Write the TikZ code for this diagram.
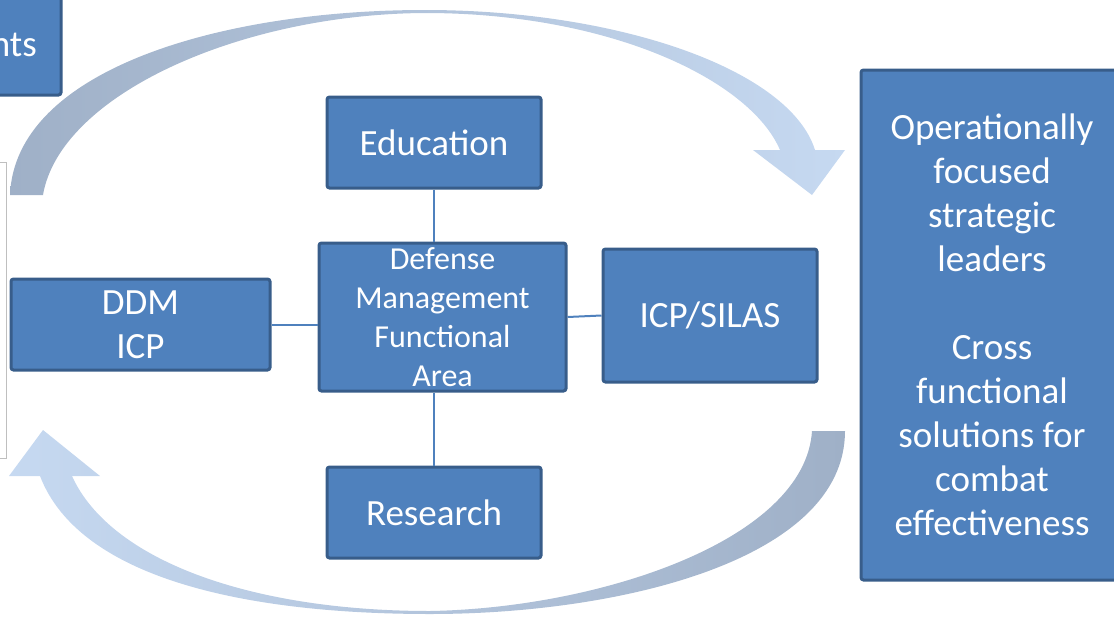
\documentclass[tikz,border=0pt]{standalone}
\usepackage{fontspec}
\setmainfont{Carlito}
\usetikzlibrary{positioning}
\definecolor{boxfill}{HTML}{4F81BD}
\definecolor{boxline}{HTML}{385D8A}
\definecolor{arcdark}{HTML}{9FB0C7}
\definecolor{arclight}{HTML}{C6D9F1}

\begin{document}
\begin{tikzpicture}[x=1pt, y=-1pt, box/.style={draw=boxline, fill=boxfill, line width=3pt, rounded corners=2.5pt, text=white, align=center, inner sep=0pt, font=\fontsize{37}{44}\selectfont}, link/.style={draw=boxfill, line width=2pt}]
\useasboundingbox (0,0) rectangle (1114,616);
\clip (0,0) rectangle (1114,616);

\shade[left color=arcdark, right color=arclight] (10,195) .. controls (15,70) and (220,10) .. (425,10) .. controls (620,10) and (790,70) .. (815,150) -- (845,150) -- (812,195) -- (753,150) -- (780,150) .. controls (750,80) and (610,13) .. (425,13) .. controls (240,14) and (60,95) .. (43,195) -- cycle;
\shade[left color=arclight, right color=arcdark] (845,431) .. controls (845,560) and (620,614) .. (430,614) .. controls (250,614) and (80,580) .. (40,476) -- (9,476) -- (43,430) -- (100,476) -- (72,476) .. controls (110,560) and (250,611) .. (430,611) .. controls (600,608) and (805,540) .. (812,431) -- cycle;

\draw[gray!50, line width=1pt] (-10,162) rectangle (6,458);

\node[box, minimum width=80pt, minimum height=110pt] (req) at (21,40) {};
\node[text=white, anchor=base east, inner sep=0pt, font=\fontsize{37}{44}\selectfont] (reqtext) at (37,56) {nts};

\node[box, minimum width=214pt, minimum height=91pt] (edu) at (434,142.5) {Education};
\node[box, minimum width=247pt, minimum height=148pt, font=\fontsize{32}{39}\selectfont] (dmfa) at (442.5,317) {Defense\\Management\\Functional\\Area};
\node[box, minimum width=259pt, minimum height=91pt] (ddm) at (140.5,324.5) {DDM\\ICP};
\node[box, minimum width=214pt, minimum height=133pt] (silas) at (710,315.5) {ICP/SILAS};
\node[box, minimum width=214pt, minimum height=91pt] (res) at (434,512.5) {Research};
\node[box, minimum width=262pt, minimum height=510pt] (goals) at (992,325) {Operationally\\focused\\strategic\\leaders\\[44pt]Cross\\functional\\solutions for\\combat\\effectiveness};

\draw[link] (edu.south) -- (edu.south |- dmfa.north);
\draw[link] (res.north) -- (res.north |- dmfa.south);
\draw[link] (ddm.east) -- (ddm.east -| dmfa.west);
\draw[link] (dmfa.east) -- (silas.west);
\end{tikzpicture}
\end{document}
